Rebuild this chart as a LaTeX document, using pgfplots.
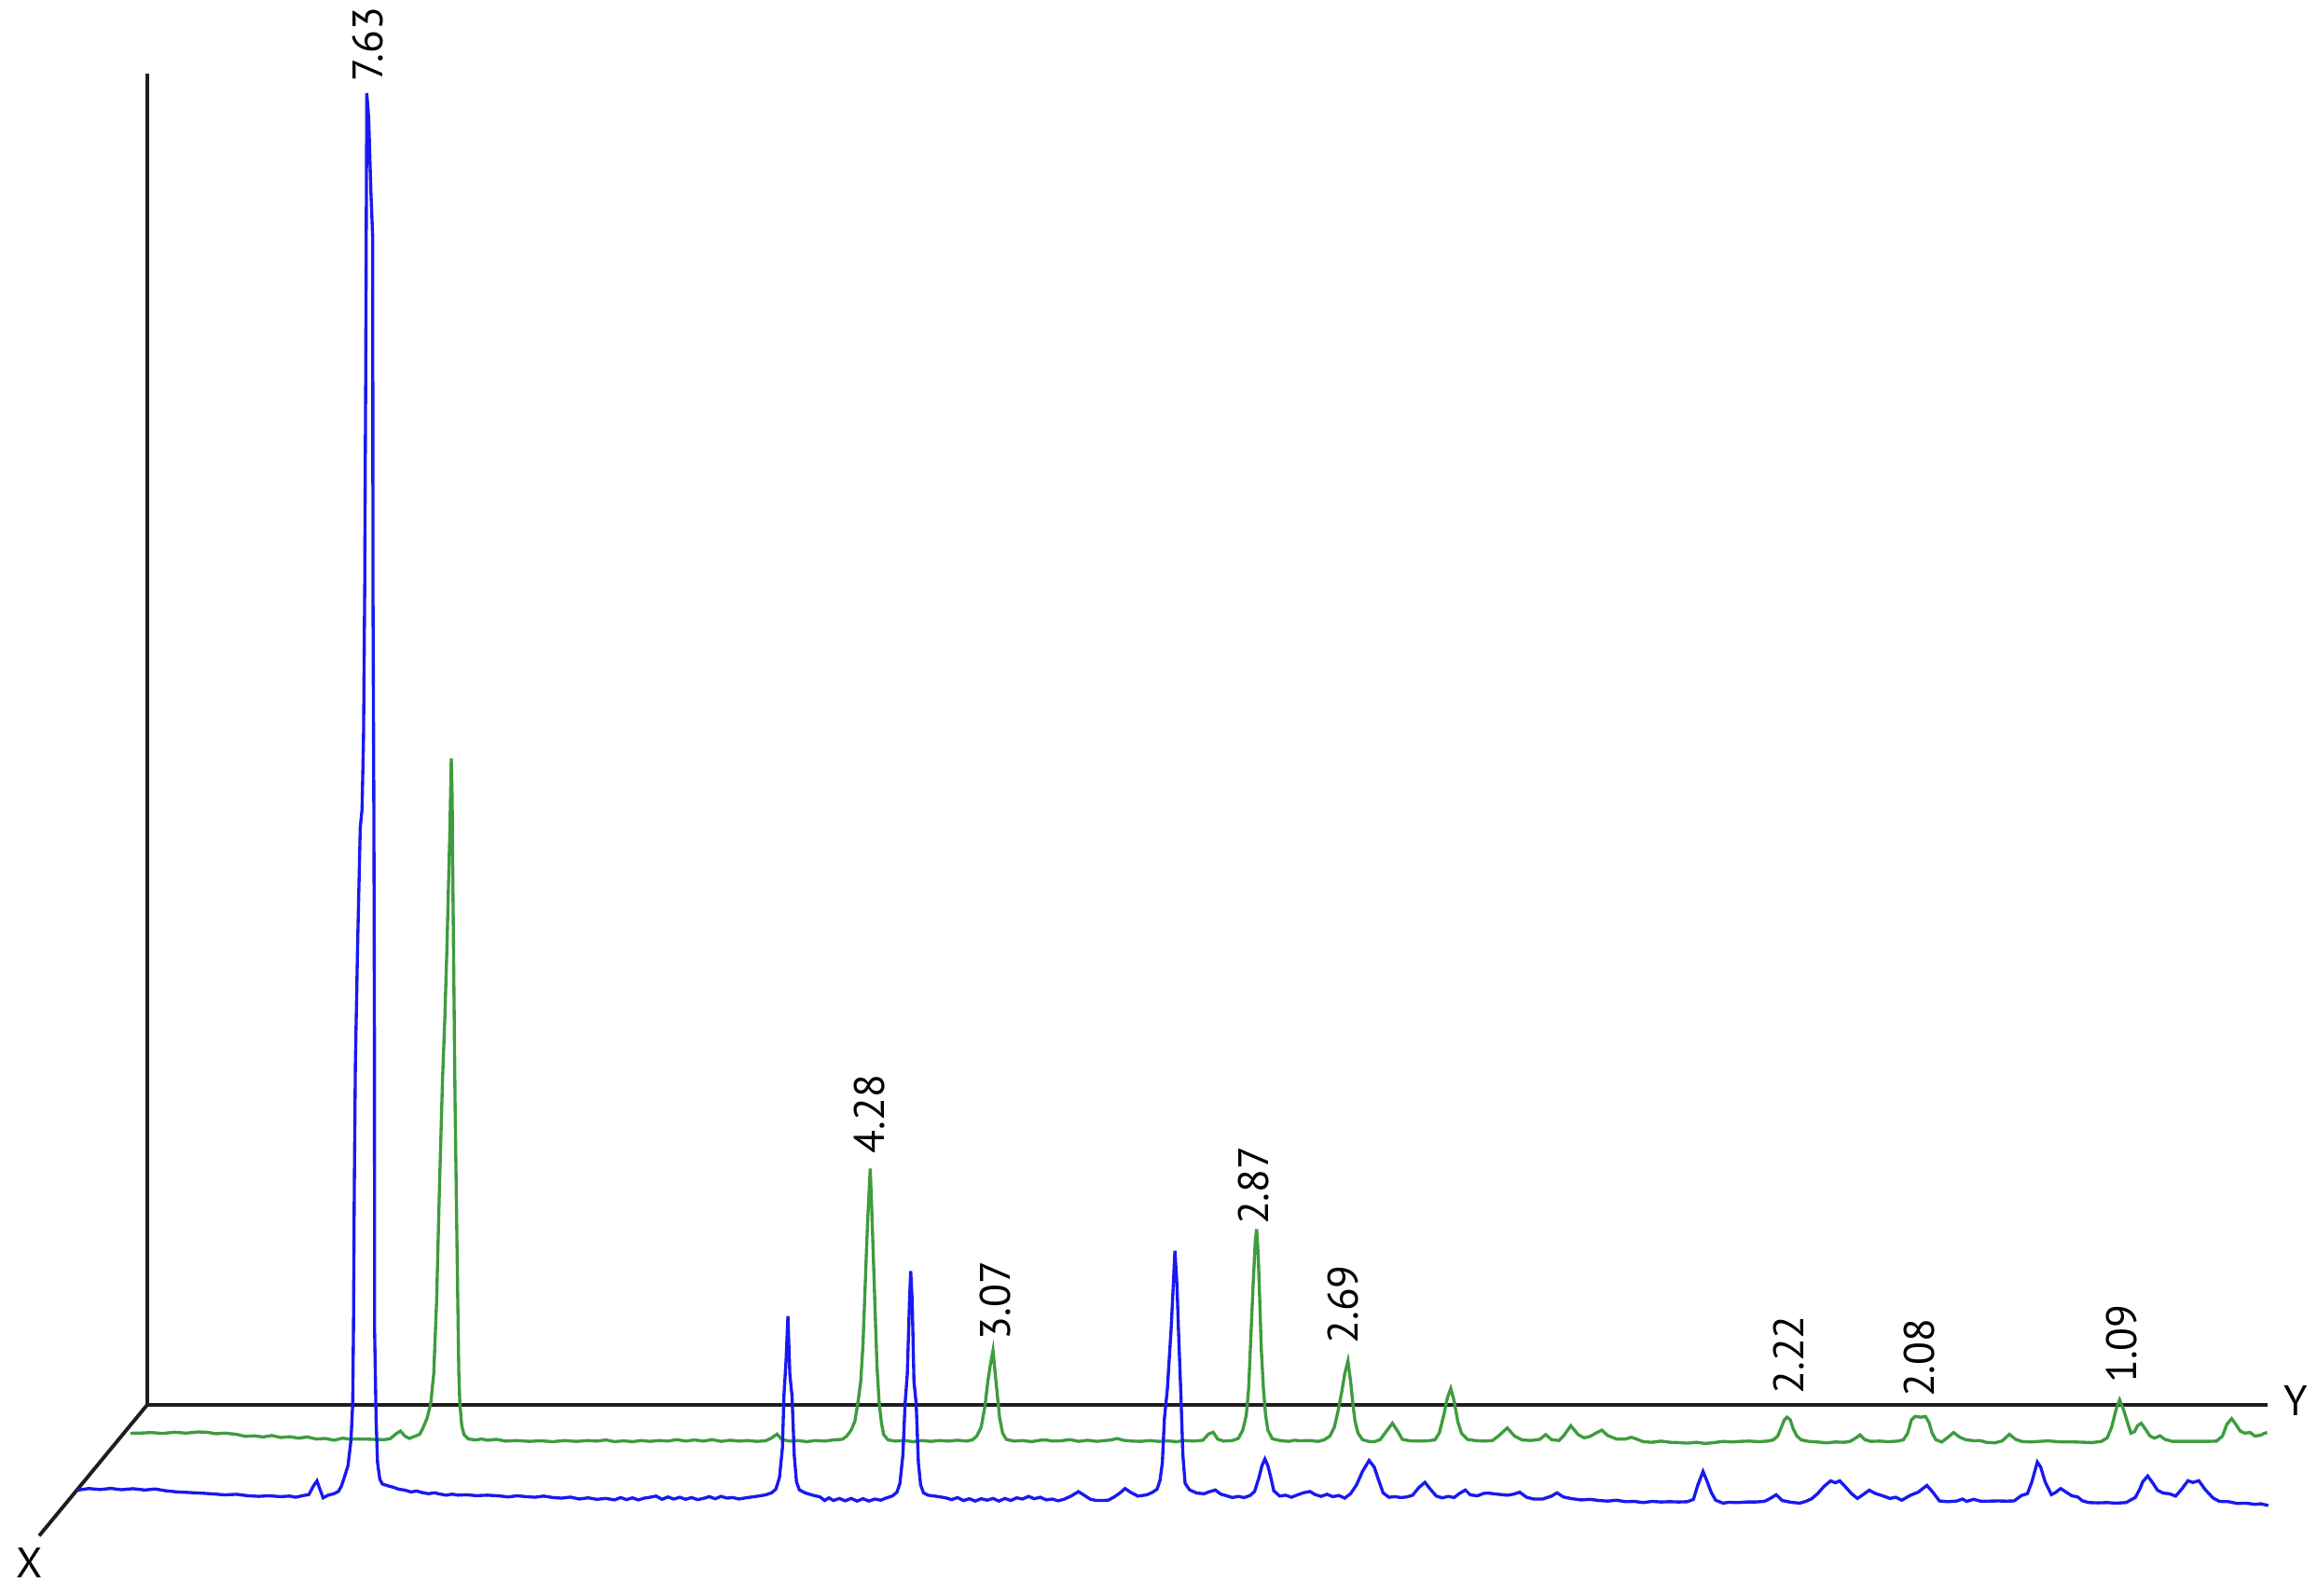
\documentclass[border=0pt]{standalone}
\usepackage{fontspec}
\setmainfont{PT Sans}
\usepackage{pgfplots}
\pgfplotsset{compat=1.18}
\definecolor{trblue}{RGB}{25,25,240}
\definecolor{trgreen}{RGB}{62,156,62}
\definecolor{axline}{RGB}{30,30,30}
\tikzset{
  peak/.style={rotate=90, anchor=west, inner sep=0pt,
    font=\fontsize{8.2}{9}\selectfont, text=black},
  axname/.style={inner sep=0pt, font=\fontsize{8.2}{9}\selectfont, text=black},
}

% traces, in picture units (x to the right, y downward)
\pgfplotstableread{
x y
52.6 1008.6
60 1007.5
68 1008.2
75 1007.4
82 1008.3
90 1007.6
98 1008.5
105 1007.8
112 1009.0
120 1009.8
128 1010.2
136 1010.6
145 1011.2
152 1011.8
160 1011.4
168 1012.4
175 1012.8
182 1012.4
190 1013.0
196 1012.6
200 1013.4
205 1012.3
209 1011.6
212 1006.0
214.5 1002.3
216.5 1008
218.7 1013.8
222 1012.0
226 1011.0
229 1009.5
231 1006
233 1000
235.5 992
237.5 975
238.7 950
239.2 900
239.8 800
240.5 720
242 640
243.8 560
245 548
246 500
246.8 400
247.5 250
248.0 120
248.2 63
249.5 80
251 130
252.2 160
252.4 400
253.0 550
253.4 700
253.5 900
254.5 960
255.5 990
257 1001
258.7 1004.4
262 1005.5
266 1006.6
270 1008.0
274 1008.6
278 1009.8
282 1009.2
286 1010.3
290 1011.0
294 1010.4
298 1011.3
302 1012.0
306 1011.3
310 1012.0
316 1011.7
322 1012.3
330 1012.0
338 1012.5
344 1013.2
350 1012.4
356 1013.0
362 1013.4
368 1012.6
374 1013.6
380 1014.0
386 1013.3
392 1014.6
398 1013.8
404 1014.8
410 1014.2
416 1015.2
420 1013.6
424 1015.0
428 1013.8
432 1015.2
436 1014.0
440 1013.4
444 1012.6
448 1014.8
452 1013.2
456 1014.6
460 1013.4
464 1014.8
468 1013.6
472 1015.0
476 1014.2
480 1013.0
484 1014.4
488 1012.8
492 1014.0
496 1013.6
500 1014.6
506 1013.6
512 1012.8
518 1011.8
522 1010.5
525 1008
527.5 1000
529.5 980
530.5 945
532 920
533.2 890.8
534.5 930
536 945
537.5 985
539 1003
541 1008.5
545 1010.5
550 1012.0
555 1013.2
558 1015.6
561 1013.8
564 1015.6
568 1014.2
572 1015.8
576 1014.2
580 1016.0
584 1014.4
588 1016.0
592 1014.6
596 1015.4
600 1013.8
604 1012.5
607 1010.0
609 1004
611 985
612.5 950
614 930
615.5 880
616.3 860.3
617.3 880
618.5 935
620 950
621.5 990
623 1005
625 1010.5
628 1012.0
634 1012.8
640 1013.8
644 1015.0
648 1013.6
652 1015.6
656 1014.4
660 1016.0
664 1014.4
668 1015.4
672 1014.2
676 1016.0
680 1014.2
684 1015.6
688 1013.8
692 1014.6
696 1012.8
700 1014.4
704 1013.4
708 1015.2
712 1014.6
716 1015.8
720 1014.8
725 1012.5
729.8 1009.6
734 1012.2
738 1014.8
742 1015.6
746 1015.6
750 1015.4
754 1013.2
758 1010.4
761.4 1007.5
765 1010.0
770 1012.6
776 1011.8
780 1010.0
783 1008
785 1002
786.6 990
788 960
790 940
792.5 900
794 870
795.1 846.6
796.5 870
797.5 900
799 940
800.5 985
802 1004
805 1008.4
810 1010.6
815 1011.0
818 1009.8
822.4 1008.5
826 1011.2
830 1012.4
834 1013.6
838 1012.8
842 1013.6
846 1012.2
849 1009.5
852 1000
854 992
856 987.5
858 992
860 1000
862 1009
866 1012.6
870 1012.0
874 1013.4
878 1011.8
882 1010.4
886.5 1009.5
890 1011.6
894 1012.8
898 1011.4
902 1013.0
906 1012.2
910 1014.0
914 1011.0
918 1005.0
922 996
926.5 988.5
930 993
933 1002
936 1010.5
940 1013.4
944 1013.0
948 1013.6
952 1013.2
956 1012.0
960 1007
964.3 1003.3
968 1008
972 1012.6
976 1013.8
980 1012.8
984 1013.6
988 1010.6
991.7 1008.5
995 1011.8
1000 1012.4
1004 1010.8
1007.4 1010.6
1012 1011.2
1016 1011.6
1020 1012.0
1024 1011.4
1028.5 1010.0
1033 1013.4
1038 1014.6
1044 1014.6
1050 1012.6
1053.7 1010.4
1058 1013.2
1064 1014.4
1070 1015.2
1076 1014.8
1082 1015.6
1088 1016.0
1094 1015.4
1100 1016.4
1106 1016.2
1112 1017.0
1118 1016.2
1124 1016.6
1130 1016.4
1136 1016.6
1142 1016.4
1146 1014.8
1149 1005
1152.5 996
1155 1002
1158 1010
1161 1015.4
1166 1017.4
1170 1016.8
1176 1017.0
1182 1016.6
1188 1016.6
1194 1016.2
1198 1014.2
1202 1011.7
1206 1015.6
1212 1016.8
1218 1017.4
1222 1016.2
1226 1014.4
1230 1011.0
1234 1006.4
1238.8 1002.3
1242 1003.6
1245 1002.3
1249 1006.5
1253 1011.0
1257 1014.2
1261 1011.5
1265 1008.6
1269 1010.8
1274 1012.4
1279 1014.2
1283 1013.4
1287 1015.4
1293 1012.0
1298 1010.0
1304 1005.4
1308 1010
1312.5 1015.9
1318 1016.4
1324 1016.0
1328 1014.6
1331 1016.2
1335.6 1014.8
1340 1016.0
1346 1016.0
1352 1015.9
1358 1016.0
1363 1015.9
1368 1012.2
1372 1011.0
1375 1003
1378.7 989.6
1381 993
1384 1003
1388.2 1011.6
1391 1010.2
1394.5 1007.5
1398 1009.8
1402 1012.4
1406 1013.2
1409.2 1015.8
1413.4 1017.0
1420 1017.2
1426 1017.0
1432 1017.4
1438.7 1017.0
1442 1015.2
1445 1013.6
1448 1008
1450 1003
1453.4 999
1457 1004
1460 1008.6
1464 1010.6
1468 1011.0
1472.3 1012.6
1476 1008.4
1480.7 1002.2
1484 1003.4
1488 1002.2
1492 1007.8
1497.5 1013.8
1502 1016.2
1508 1016.4
1514 1017.6
1520 1017.4
1526 1018.2
1530 1017.8
1535 1019.0
}\bluetrace

\pgfplotstableread{
x y
88.3 970.1
95 970.0
102 969.6
110 970.2
118 969.4
126 970.0
134 969.2
140 969.4
146 970.4
152 970.0
160 970.8
166 972.2
172 971.8
178 972.6
184 971.6
190 973.0
196 972.4
202 973.4
208 972.6
214 974.0
220 973.6
226 974.8
232 973.4
236 974.0
244 974.0
252 974.2
260 974.4
264 973.8
268 970.5
271 968.6
274 972
277 973.6
280 972.4
284 970.8
286 967
289 960
291.5 950
293.5 930
295.5 880
297.5 800
299.5 730
301 690
302.5 640
303.5 600
304.5 560
305.4 513.2
306 540
306.5 600
307 650
308 750
309.5 860
310.5 930
311.2 950
312.5 965
314 971
317 974
322 974.6
326 974.0
330 974.8
336 974.2
342 975.4
350 975.0
358 975.6
366 975.2
374 975.8
382 975.0
390 975.6
398 975.0
404 975.4
410 974.6
416 975.8
422 975.2
428 975.8
434 975.0
440 975.6
446 975.0
452 975.4
458 974.4
464 975.4
470 974.6
476 975.4
482 974.4
488 975.6
494 974.8
500 975.4
506 975.0
512 975.6
518 975.2
522 973.4
525.8 970.7
529 974.2
534 975.4
540 975.0
546 975.8
552 975.0
558 975.4
564 974.6
570 974.2
573 972
576 968
578.5 962
580.5 950
582.5 935
584 910
585.5 870
587 830
588.9 790.9
590 820
591 850
592.3 890
593.5 925
595 950
596.5 963
598 971
601 974.6
606 975.4
612 975.0
618 975.8
624 975.0
630 975.6
636 975.0
642 975.4
648 974.8
654 975.4
658 974.6
661 972
664 966
666.5 952
668.5 935
670 925
672 914
673.5 930
675 945
676.5 960
678.5 970
681 974.2
686 975.4
692 975.0
698 975.8
704 974.8
708 974.6
712 975.4
718 975.2
724 974.4
730 975.6
736 974.8
742 975.6
748 975.0
752 974.6
756 973.6
760 974.8
766 975.4
772 975.6
778 975.0
784 975.6
790 975.2
796 975.8
802 975.0
808 975.4
814 974.8
818 970.5
821 969.4
824 974
828 975.4
834 975.0
838 973.6
841 968
843.4 958
845 940
846.5 905
848 870
849.5 840
850.4 831.9
851.5 850
852.5 880
853.5 912
855 940
856.5 958
858 968
861 973.8
866 975.0
872 975.6
876 974.8
880 975.2
886 975.0
892 975.6
896 974.6
900 972
903 966
905.5 955
908 942
910 930
912.2 921.2
914 935
915.5 950
917 962
919 970
922 974.4
926 975.6
930 975.8
934 974.4
938 969
942.3 963.3
946 969
949 974.2
954 975.2
960 975.4
966 975.2
971 974.6
974 970
977 958
979.5 946
981.8 939.8
984 948
986.5 962
989 970
993 974.2
998 975.0
1004 975.4
1010 975.0
1014 972
1020 966.5
1025 972
1030 974.6
1036 975.0
1042 974.2
1046 971
1050 974.4
1055 975.0
1058 972
1063 965
1068 971
1072 973.2
1076 972.2
1080 970
1084 968
1088 971.6
1094 974.0
1100 974.0
1104 972.8
1108 974.2
1112 975.8
1118 976.2
1124 975.4
1130 976.2
1136 976.4
1142 976.8
1148 976.2
1154 977.0
1160 976.4
1166 975.6
1172 976.0
1178 975.6
1184 975.4
1190 975.8
1196 975.4
1200 974.6
1203 972
1205.5 966
1207.5 961
1209.3 959.2
1211.5 961
1213.5 967
1216 972
1219 974.6
1224 975.6
1230 976.0
1236 976.6
1242 976.0
1248 976.2
1252 975.6
1256 973.2
1258.7 971.2
1262 974.4
1266 975.6
1272 975.4
1278 975.8
1284 975.4
1288 974.6
1291 970
1293.5 961
1296 958.7
1300 959.2
1303 958.7
1305.5 963
1307.5 970
1310 974.4
1314 976.0
1318 973.0
1322 969.6
1326 972.6
1330 974.4
1336 975.2
1340 975.0
1344 976.2
1350 976.6
1355 975.2
1359.8 970.8
1364 974.2
1368 975.6
1374 976.0
1380 975.6
1386 975.2
1392 975.8
1398 976.0
1404 976.0
1410 976.2
1416 976.4
1422 975.6
1426 973.2
1429 966
1432 954
1434.4 947.5
1437 954
1439.5 962
1442 970
1444.5 969
1446.5 965
1449 963.3
1452 967.5
1455 972
1458 973.4
1461.8 971.8
1465 974.2
1470 975.6
1476 975.6
1482 975.6
1488 975.6
1494 975.6
1500 975.4
1504 972
1507 964
1510.2 960.2
1513 964
1516 968.6
1519 970
1522.8 969.6
1526 972
1530 971.4
1532 970.2
1534.3 969.6
}\greentrace

\begin{document}
\begin{tikzpicture}
\begin{axis}[
  width=15.68cm, height=10.80cm, scale only axis,
  xmin=0, xmax=1568, ymin=0, ymax=1080,
  y dir=reverse,
  hide axis, clip=false,
  every axis plot/.append style={no marks},
]
\path (rel axis cs:0,0) rectangle (rel axis cs:1,1);
% frame of the pseudo 3D plot
\addplot[axline, line width=0.7pt] coordinates {(99.5,50) (99.5,951) (1534.5,951)};
\addplot[axline, line width=0.7pt] coordinates {(99.5,951) (26.5,1039.5)};
% the two patterns
\addplot[trgreen, line width=0.6pt] table[x=x, y=y] {\greentrace};
\addplot[trblue, line width=0.6pt] table[x=x, y=y] {\bluetrace};
% peak labels
\node[peak] at (axis cs:248.7,55.7) {7.63};
\node[peak] at (axis cs:588.4,781.4) {4.28};
\node[peak] at (axis cs:673.6,907.6) {3.07};
\node[peak] at (axis cs:848.5,829.8) {2.87};
\node[peak] at (axis cs:909.0,910.3) {2.69};
\node[peak] at (axis cs:1210.5,944.4) {2.22};
\node[peak] at (axis cs:1298.8,946.5) {2.08};
\node[peak] at (axis cs:1436.0,937.0) {1.09};
% axis names
\node[axname] at (axis cs:20,1058) {X};
\node[axname] at (axis cs:1553.5,948) {Y};
\end{axis}
\end{tikzpicture}
\end{document}
